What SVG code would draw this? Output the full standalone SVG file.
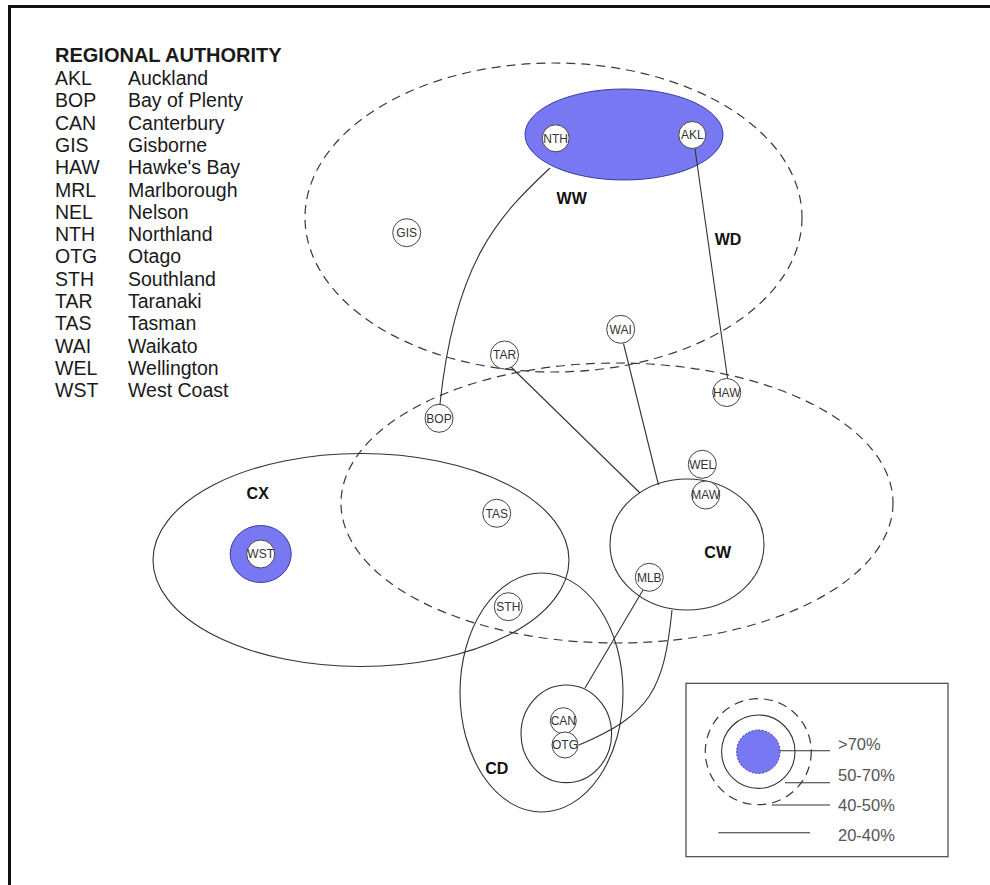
<svg xmlns="http://www.w3.org/2000/svg" width="990" height="885" viewBox="0 0 990 885">
<style>
  .legend { font-family: "Liberation Sans", Arial, sans-serif; font-size: 19.5px; fill: #1a1a1a; }
  .title { font-weight: bold; font-size: 20px; }
  .dash { fill: none; stroke: #3a3a3a; stroke-width: 1.2; stroke-dasharray: 9 6; }
  .solid { fill: none; stroke: #333; stroke-width: 1.1; }
  .conn { fill: none; stroke: #333; stroke-width: 1.1; }
  .node circle { fill: #fff; stroke: #444; stroke-width: 1; }
  .node text { font-family: "Liberation Sans", Arial, sans-serif; font-size: 12px; fill: #333; text-anchor: middle; }
  .lbl { font-family: "Liberation Sans", Arial, sans-serif; font-size: 16px; font-weight: bold; fill: #111; text-anchor: middle; }
  .blue { fill: #7878F2; stroke: #3a3aa0; stroke-width: 1; }
  .ltext { font-family: "Liberation Sans", Arial, sans-serif; font-size: 16.5px; fill: #555; }
</style>
<rect x="0" y="0" width="990" height="885" fill="#fff"/>
<rect x="9.5" y="6.5" width="1000" height="900" fill="none" stroke="#111" stroke-width="3"/>

<g id="legend-authority" class="legend">
  <text x="55" y="62" class="title">REGIONAL AUTHORITY</text>
  <text x="55" y="85">AKL</text><text x="128" y="85">Auckland</text>
  <text x="55" y="107.3">BOP</text><text x="128" y="107.3">Bay of Plenty</text>
  <text x="55" y="129.6">CAN</text><text x="128" y="129.6">Canterbury</text>
  <text x="55" y="151.9">GIS</text><text x="128" y="151.9">Gisborne</text>
  <text x="55" y="174.2">HAW</text><text x="128" y="174.2">Hawke's Bay</text>
  <text x="55" y="196.5">MRL</text><text x="128" y="196.5">Marlborough</text>
  <text x="55" y="218.8">NEL</text><text x="128" y="218.8">Nelson</text>
  <text x="55" y="241.1">NTH</text><text x="128" y="241.1">Northland</text>
  <text x="55" y="263.4">OTG</text><text x="128" y="263.4">Otago</text>
  <text x="55" y="285.7">STH</text><text x="128" y="285.7">Southland</text>
  <text x="55" y="308">TAR</text><text x="128" y="308">Taranaki</text>
  <text x="55" y="330.3">TAS</text><text x="128" y="330.3">Tasman</text>
  <text x="55" y="352.6">WAI</text><text x="128" y="352.6">Waikato</text>
  <text x="55" y="374.9">WEL</text><text x="128" y="374.9">Wellington</text>
  <text x="55" y="397.2">WST</text><text x="128" y="397.2">West Coast</text>
</g>

<g id="group-upper">
  <ellipse class="dash" cx="553.5" cy="217.5" rx="248.5" ry="154.5"/>
  <ellipse class="blue" cx="624" cy="134.5" rx="99" ry="45.5"/>
  <text class="lbl" x="571.7" y="203.7">WW</text>
  <text class="lbl" x="728" y="244.7">WD</text>
</g>
<g id="group-lower">
  <ellipse class="dash" cx="617" cy="503" rx="276" ry="140"/>
</g>
<g id="group-cx">
  <ellipse class="solid" cx="361" cy="560" rx="208" ry="106.5"/>
  <ellipse class="blue" cx="260.7" cy="554" rx="30.5" ry="28.5"/>
  <text class="lbl" x="257.7" y="499">CX</text>
</g>
<g id="group-cw">
  <ellipse class="solid" cx="687" cy="544.5" rx="77" ry="65.5"/>
  <text class="lbl" x="717.7" y="558.4">CW</text>
</g>
<g id="group-cd">
  <ellipse class="solid" cx="541.5" cy="692.5" rx="81.5" ry="119.5"/>
  <ellipse class="solid" cx="566.3" cy="733.8" rx="45.3" ry="48.8"/>
  <text class="lbl" x="496.7" y="774">CD</text>
</g>

<g id="connectors">
  <path class="conn" d="M550,168 C500,215 455,260 440,404"/>
  <path class="conn" d="M695,149 L727.5,378"/>
  <path class="conn" d="M511,367 L640,493"/>
  <path class="conn" d="M623.5,343.5 L658.5,485"/>
  <path class="conn" d="M643,590 L585,688"/>
  <path class="conn" d="M672,610 C664,690 650,715 579,745"/>
</g>

<g id="NTH" class="node"><circle cx="555.7" cy="138.3" r="13.5"/><text x="555.7" y="142.6">NTH</text></g>
<g id="AKL" class="node"><circle cx="692.3" cy="135" r="13.5"/><text x="692.3" y="139.3">AKL</text></g>
<g id="GIS" class="node"><circle cx="406.7" cy="232.7" r="14"/><text x="406.7" y="237">GIS</text></g>
<g id="WAI" class="node"><circle cx="620.7" cy="329.3" r="14"/><text x="620.7" y="333.6">WAI</text></g>
<g id="TAR" class="node"><circle cx="504.5" cy="355" r="14"/><text x="504.5" y="359.3">TAR</text></g>
<g id="HAW" class="node"><circle cx="726.7" cy="392.5" r="14"/><text x="726.7" y="396.8">HAW</text></g>
<g id="BOP" class="node"><circle cx="439" cy="418.3" r="14"/><text x="439" y="422.6">BOP</text></g>
<g id="WEL" class="node"><circle cx="702.3" cy="464.3" r="14"/><text x="702.3" y="468.6">WEL</text></g>
<g id="MAW" class="node"><circle cx="705.7" cy="495" r="14"/><text x="705.7" y="499.3">MAW</text></g>
<g id="TAS" class="node"><circle cx="496.7" cy="513.3" r="14"/><text x="496.7" y="517.6">TAS</text></g>
<g id="WST" class="node"><circle cx="260.7" cy="554" r="14"/><text x="260.7" y="558.3">WST</text></g>
<g id="MLB" class="node"><circle cx="649.3" cy="577.3" r="14"/><text x="649.3" y="581.6">MLB</text></g>
<g id="STH" class="node"><circle cx="508.3" cy="606.7" r="14"/><text x="508.3" y="611">STH</text></g>
<g id="CAN" class="node"><circle cx="563.3" cy="720.7" r="13"/><text x="563.3" y="725">CAN</text></g>
<g id="OTG" class="node"><circle cx="565" cy="745" r="13"/><text x="565" y="749.3">OTG</text></g>

<g id="legend-key">
  <rect x="686" y="683.3" width="262" height="173.4" fill="none" stroke="#444" stroke-width="1.2"/>
  <circle cx="758.3" cy="751.7" r="53" class="dash"/>
  <circle cx="758.3" cy="751.7" r="36.7" class="solid"/>
  <circle cx="758.3" cy="751.7" r="21.7" fill="#7878F2" stroke="#3a3aa0" stroke-width="1" stroke-dasharray="2 1.5"/>
  <line class="conn" x1="780" y1="750.7" x2="830" y2="750.7"/>
  <line class="conn" x1="785" y1="782.7" x2="830" y2="782.7"/>
  <line class="conn" x1="771.7" y1="805" x2="830" y2="805"/>
  <line class="conn" x1="718.3" y1="832.7" x2="810" y2="832.7"/>
  <text class="ltext" x="838" y="750">&gt;70%</text>
  <text class="ltext" x="838" y="781">50-70%</text>
  <text class="ltext" x="838" y="811">40-50%</text>
  <text class="ltext" x="838" y="841">20-40%</text>
</g>
</svg>
